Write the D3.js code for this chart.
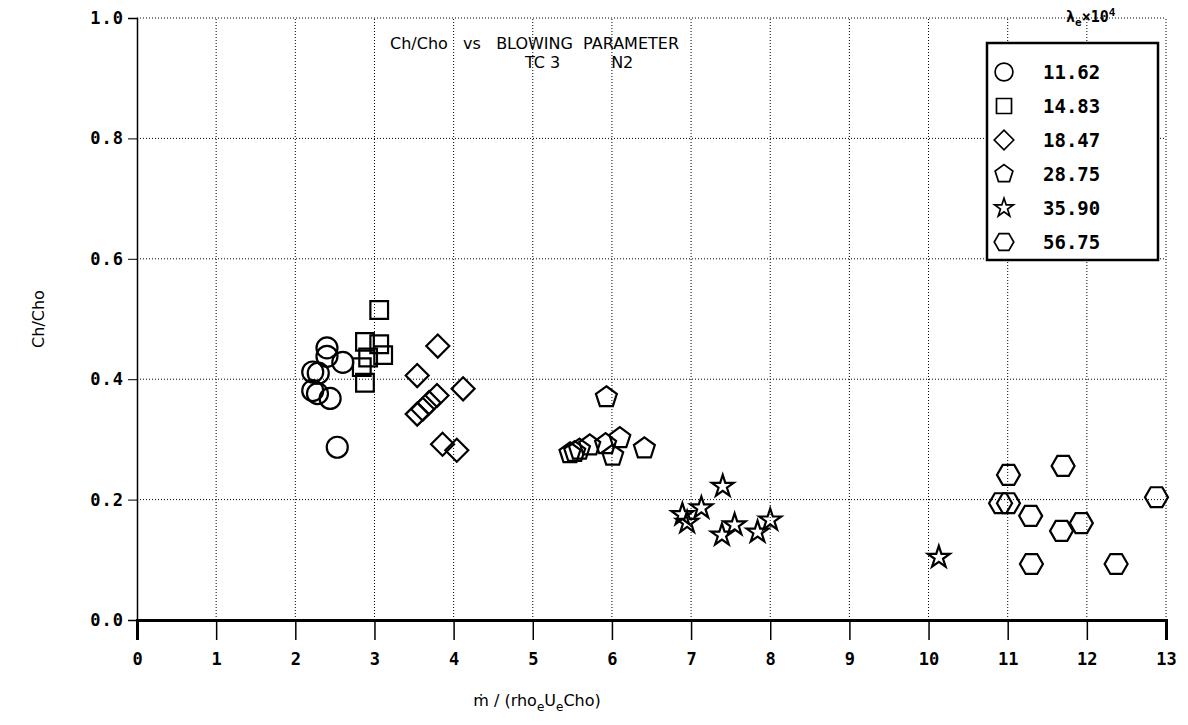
<!DOCTYPE html>
<html>
<head>
<meta charset="utf-8">
<script src="https://cdn.jsdelivr.net/npm/d3@7"></script>
<style>
  body { margin: 0; background: #fff; }
  text { fill: #000; }
</style>
</head>
<body>
<script>

// data: [blowing parameter, Ch/Cho]
var xTicks = [0, 1, 2, 3, 4, 5, 6, 7, 8, 9, 10, 11, 12, 13],
    yTicks = [0, 0.2, 0.4, 0.6, 0.8, 1.0],
    lambdaLabels = ["11.62", "14.83", "18.47", "28.75", "35.90", "56.75"];

var circles = [[2.40, 0.452], [2.40, 0.438], [2.60, 0.428], [2.22, 0.412], [2.29, 0.410],
               [2.22, 0.381], [2.28, 0.376], [2.44, 0.368], [2.53, 0.287]];
var squares = [[3.06, 0.515], [2.88, 0.462], [3.06, 0.458], [3.11, 0.440], [2.92, 0.436],
               [2.84, 0.420], [2.88, 0.394]];
var diamonds = [[3.80, 0.455], [3.54, 0.406], [4.12, 0.384], [3.79, 0.373], [3.69, 0.361],
                [3.61, 0.350], [3.54, 0.342], [3.86, 0.292], [4.04, 0.282]];
var pentagons = [[5.93, 0.370], [5.47, 0.277], [5.53, 0.279], [5.59, 0.283], [5.72, 0.290],
                 [5.92, 0.292], [6.01, 0.273], [6.10, 0.302], [6.41, 0.285]];
var stars = [[6.89, 0.175], [6.95, 0.162], [7.13, 0.186], [7.40, 0.222], [7.39, 0.141],
             [7.55, 0.158], [7.84, 0.146], [8.00, 0.166], [10.13, 0.104]];
var hexagons = [[10.91, 0.194], [11.01, 0.194], [11.01, 0.241], [11.29, 0.173], [11.30, 0.093],
                [11.68, 0.148], [11.70, 0.256], [11.93, 0.161], [12.37, 0.093], [12.88, 0.204]];


var W = 1188, H = 725,
    svg = d3.select("body").append("svg").attr("width", W).attr("height", H),
    x = d3.scaleLinear().domain([0, 13]).range([137, 1166]),
    y = d3.scaleLinear().domain([0, 1]).range([620, 18]);

var monoFont = "'DejaVu Sans Mono', monospace",
    sansFont = "'DejaVu Sans', sans-serif";


// polygon outline path, centred on 0,0
function polygon(n, r, rot) {
    var p = d3.path();
    for (var i = 0; i < n; i++) {
        var a = rot + i * 2 * Math.PI / n;
        if (i === 0) p.moveTo(r * Math.cos(a), r * Math.sin(a));
        else p.lineTo(r * Math.cos(a), r * Math.sin(a));
    }
    p.closePath();
    return p.toString();
}

var shapes = [
    d3.symbol().type(d3.symbolCircle).size(Math.PI * 10.5 * 10.5)(),
    polygon(4, 12.5, Math.PI / 4),
    polygon(4, 11.5, 0),
    polygon(5, 11, -Math.PI / 2),
    d3.symbol().type(d3.symbolStar).size(150)(),
    polygon(6, 11.5, 0)
];

var seriesList = [circles, squares, diamonds, pentagons, stars, hexagons];


// grid (dotted)
var grid = svg.append("g")
    .attr("stroke", "#000")
    .attr("stroke-width", 1)
    .attr("stroke-dasharray", "1,2");

grid.selectAll(".vg").data(xTicks.slice(1)).enter().append("line")
    .attr("x1", d => x(d)).attr("x2", d => x(d))
    .attr("y1", y(0)).attr("y2", y(1));

grid.selectAll(".hg").data(yTicks.slice(1)).enter().append("line")
    .attr("x1", x(0)).attr("x2", x(13))
    .attr("y1", d => y(d)).attr("y2", d => y(d));


// axes
var xAxis = svg.append("g")
    .attr("transform", "translate(0," + y(0) + ")")
    .call(d3.axisBottom(x).tickValues(xTicks).tickSize(20).tickPadding(13).tickFormat(d3.format("d")));

xAxis.select(".domain").attr("stroke-width", 3);
xAxis.selectAll(".tick line").attr("stroke-width", 1.5);
xAxis.selectAll("text")
    .style("font-family", monoFont)
    .style("font-size", "17px")
    .style("font-weight", "bold");

var yAxis = svg.append("g")
    .attr("transform", "translate(" + x(0) + ",0)")
    .call(d3.axisLeft(y).tickValues(yTicks).tickSize(9).tickPadding(4).tickFormat(d3.format(".1f")));

yAxis.select(".domain").attr("stroke-width", 1.5);
yAxis.selectAll("text")
    .style("font-family", monoFont)
    .style("font-size", "17px")
    .style("font-weight", "bold")
    .style("letter-spacing", "1px");


// markers
seriesList.forEach(function(data, k) {
    svg.append("g").selectAll("path").data(data).enter().append("path")
        .attr("d", shapes[k])
        .attr("transform", d => "translate(" + x(d[0]) + "," + y(d[1]) + ")")
        .attr("fill", "none")
        .attr("stroke", "#000")
        .attr("stroke-width", 2.2);
});


// titles
svg.append("text")
    .attr("x", 390).attr("y", 49)
    .attr("xml:space", "preserve")
    .style("font-family", sansFont)
    .style("font-size", "16px")
    .text("Ch/Cho   vs   BLOWING  PARAMETER");

svg.append("text")
    .attr("x", 525).attr("y", 68)
    .attr("xml:space", "preserve")
    .style("font-family", sansFont)
    .style("font-size", "16px")
    .text("TC 3          N2");

svg.append("text")
    .attr("transform", "translate(44," + y(0.5) + ") rotate(-90)")
    .attr("text-anchor", "middle")
    .style("font-family", sansFont)
    .style("font-size", "16px")
    .text("Ch/Cho");

var xt = svg.append("text")
    .attr("x", 537).attr("y", 706)
    .attr("text-anchor", "middle")
    .style("font-family", sansFont)
    .style("font-size", "16px");
xt.append("tspan").text("ṁ / (rho");
xt.append("tspan").attr("dy", 5).style("font-size", "12px").text("e");
xt.append("tspan").attr("dy", -5).text("U");
xt.append("tspan").attr("dy", 5).style("font-size", "12px").text("e");
xt.append("tspan").attr("dy", -5).text("Cho)");


// legend
var legend = svg.append("g");

legend.append("rect")
    .attr("x", 987).attr("y", 43)
    .attr("width", 171).attr("height", 217)
    .attr("fill", "#fff")
    .attr("stroke", "#000")
    .attr("stroke-width", 2.5);

var lh = legend.append("text")
    .attr("x", 1066).attr("y", 22)
    .style("font-family", monoFont)
    .style("font-size", "15px")
    .style("font-weight", "bold");
lh.append("tspan").text("λ");
lh.append("tspan").attr("dy", 4).style("font-size", "11px").text("e");
lh.append("tspan").attr("dy", -4).text("×10");
lh.append("tspan").attr("dy", -6).style("font-size", "11px").text("4");

lambdaLabels.forEach(function(lab, k) {
    var ly = 72 + k * 34;
    legend.append("path")
        .attr("d", shapes[k])
        .attr("transform", "translate(1004," + ly + ") scale(0.85)")
        .attr("fill", "none")
        .attr("stroke", "#000")
        .attr("stroke-width", 2);
    legend.append("text")
        .attr("x", 1043).attr("y", ly + 7)
        .style("font-family", monoFont)
        .style("font-size", "19px")
        .style("font-weight", "bold")
        .text(lab);
});

</script>
</body>
</html>
